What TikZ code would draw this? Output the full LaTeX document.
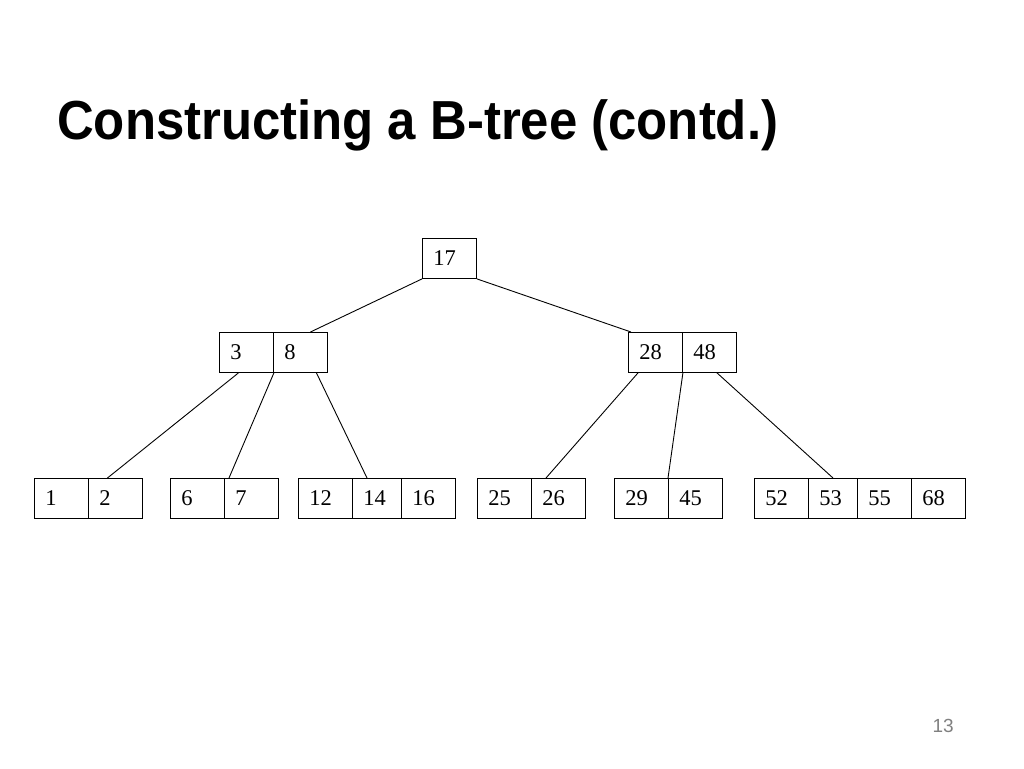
\documentclass[tikz,border=0pt]{standalone}
\usepackage{fontspec}
\usepackage{graphicx}
\setmainfont{Liberation Serif}
\newfontfamily\titlefont{Liberation Sans}
\begin{document}
\begin{tikzpicture}[x=1pt, y=-1pt]
				\tikzstyle{Cell} = [rectangle, draw, line width=0.9pt, anchor=north west, minimum height=40, inner xsep=11pt, inner ysep=0pt, text width=32pt, align=left, font=\fontsize{22.5}{24}\selectfont]
				\tikzstyle{Link} = [line width=0.9pt]
				\useasboundingbox [fill=white] (0,0) rectangle (1024,768);
				% title and page number
				\node (title) at (57,139) [anchor=base west, inner sep=0pt] {\resizebox{721pt}{\height}{\titlefont\fontsize{55}{60}\selectfont\bfseries Constructing a B-tree (contd.)}};
				\node (page) at (954,732) [anchor=base east, inner sep=0pt, text=black!50, font=\titlefont\fontsize{19}{22}\selectfont] {13};
				% root
				\node (r17) at (422,238) [Cell, fill=white] {17};
				% second level
				\node (n3) at (219,332) [Cell, fill=white] {3};
				\node (n8) at (273,332) [Cell, fill=white] {8};
				\node (n28) at (628,332) [Cell, fill=white] {28};
				\node (n48) at (682,332) [Cell, fill=white] {48};
				% leaves
				\node (n1) at (34,478) [Cell, fill=white] {1};
				\node (n2) at (88,478) [Cell, fill=white] {2};
				\node (n6) at (170,478) [Cell, fill=white] {6};
				\node (n7) at (224,478) [Cell, fill=white] {7};
				\node (n12) at (298,478) [Cell, fill=white] {12};
				\node (n14) at (352,478) [Cell, fill=white, text width=27pt] {14};
				\node (n16) at (401,478) [Cell, fill=white] {16};
				\node (n25) at (477,478) [Cell, fill=white] {25};
				\node (n26) at (531,478) [Cell, fill=white] {26};
				\node (n29) at (614,478) [Cell, fill=white] {29};
				\node (n45) at (668,478) [Cell, fill=white] {45};
				\node (n52) at (754,478) [Cell, fill=white] {52};
				\node (n53) at (808,478) [Cell, fill=white, text width=27pt] {53};
				\node (n55) at (857,478) [Cell, fill=white] {55};
				\node (n68) at (911,478) [Cell, fill=white] {68};
				% links
				\draw [Link] (r17.south west) to ([xshift=10pt]n8.north);
				\draw [Link] (r17.south east) to ([xshift=3pt]n28.north west);
				\draw [Link] ([xshift=-8pt]n3.south) to ([xshift=-8pt]n2.north);
				\draw [Link] (n3.south east) to ([xshift=5pt]n7.north west);
				\draw [Link] ([xshift=16pt]n8.south) to ([xshift=15pt]n14.north west);
				\draw [Link] ([xshift=10pt]n28.south west) to ([xshift=15pt]n26.north west);
				\draw [Link] (n28.south east) to (n45.north west);
				\draw [Link] ([xshift=35pt]n48.south west) to ([xshift=25pt]n53.north west);
			\end{tikzpicture}
\end{document}
